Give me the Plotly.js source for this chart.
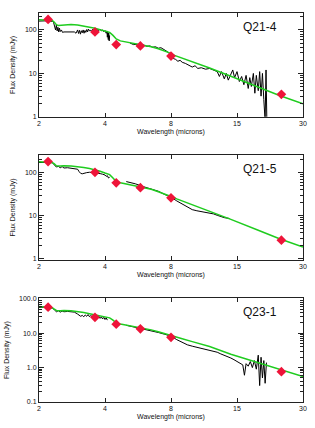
<!DOCTYPE html>
<html>
<head>
<meta charset="utf-8">
<script src="https://cdn.plot.ly/plotly-3.0.1.min.js"></script>
<style>html,body{margin:0;padding:0;background:#fff;}#chart{width:315px;height:428px;}</style>
</head>
<body>
<div id="chart"></div>
<script>
// ---------- data ----------
var panelNames = ['Q21-4', 'Q21-5', 'Q23-1'];
var xTickVals = [2, 4, 8, 16, 32];
var xTickText = ['2', '4', '8', '15', '30'];

// photometry (red diamonds)
var photX = [2.2, 3.6, 4.5, 5.8, 8.0, 25.5];
var photY1 = [175, 90, 46, 43, 25, 3.3];
var photY2 = [181, 102, 58, 44.7, 26, 2.7];
var photY3 = [57, 29, 18.3, 13.4, 7.6, 0.76];

// model (green)
var modX1 = [2.0, 2.2, 2.3, 2.35, 2.4, 2.45, 2.5, 2.6, 2.8, 3.0, 3.2, 3.4, 3.6, 3.8, 4.0, 4.2, 4.35, 4.5, 4.7, 5.0, 5.5, 6.0, 6.5, 7.0, 7.5, 7.8, 8.0, 8.3, 9, 10, 12, 15, 20, 25, 32];
var modY1 = [172, 170, 165, 150, 132, 127, 128, 130, 134, 130, 124, 118, 110, 101, 93, 88, 75, 62, 56, 53, 49, 45, 41, 37, 33, 31, 29, 26, 22.5, 18.5, 13.3, 8.6, 4.9, 3.1, 2.0];
var modX2 = [2.0, 2.2, 2.3, 2.35, 2.4, 2.5, 2.6, 2.8, 3.0, 3.2, 3.4, 3.6, 3.8, 4.0, 4.2, 4.35, 4.5, 4.7, 5.0, 5.5, 6.0, 6.5, 7.0, 7.5, 8.0, 8.5, 9, 10, 12, 15, 20, 25, 32];
var modY2 = [180, 178, 172, 160, 145, 142, 144, 142, 138, 132, 125, 117, 108, 98, 90, 75, 62, 58, 54, 49, 45, 41, 36, 32, 28, 24.5, 22, 18, 12.8, 8.2, 4.6, 2.9, 1.87];
var modX3 = [2.0, 2.2, 2.3, 2.35, 2.4, 2.5, 2.6, 2.8, 3.0, 3.2, 3.4, 3.6, 3.8, 4.0, 4.2, 4.35, 4.5, 4.7, 5.0, 5.5, 6.0, 6.5, 7.0, 7.5, 8.0, 9, 10, 12, 15, 20, 25, 32];
var modY3 = [60, 58, 55, 50, 46, 45, 46, 45, 43, 40, 37, 34, 32, 30, 28, 24, 20, 18.5, 17.3, 15.5, 14, 12.5, 11, 9.8, 8.5, 6.9, 5.7, 4.1, 2.46, 1.38, 0.89, 0.55];

// ground-based spectra (black, short wavelengths)
var gndX1 = [2.0, 2.05, 2.1, 2.15, 2.2, 2.25, 2.3, 2.33, 2.36, 2.38, 2.40, 2.42, 2.44, 2.46, 2.48, 2.50, 2.53, 2.56, 2.6, 2.9, 2.95, 3.0, 3.03, 3.06, 3.09, 3.12, 3.15, 3.18, 3.21, 3.24, 3.27, 3.3, 3.33, 3.36, 3.4, 3.44, 3.48, 3.52, 3.56, 3.6, 3.65, 3.7, 3.75, 3.8, 3.85, 3.9, 3.95, 4.0, 4.05, 4.08, 4.1, 4.12, 4.14, 4.16, 4.18, 4.2];
var gndY1 = [160, 162, 164, 162, 160, 162, 158, 150, 120, 100, 130, 95, 115, 90, 110, 92, 100, 88, 90, 90, 84, 100, 83, 98, 80, 96, 86, 100, 84, 97, 88, 102, 90, 105, 94, 100, 92, 105, 96, 100, 94, 102, 97, 104, 95, 100, 91, 97, 84, 95, 68, 90, 60, 85, 56, 75];
var gndX2 = [2.0, 2.1, 2.2, 2.3, 2.35, 2.4, 2.45, 2.5, 2.55, 2.6, 2.7, 2.8, 2.9, 3.0, 3.05, 3.1, 3.15, 3.2, 3.3, 3.4, 3.5, 3.6, 3.7, 3.8, 3.9, 4.0, 4.05, 4.1, 4.15, 4.2];
var gndY2 = [172, 174, 172, 170, 150, 135, 140, 130, 138, 128, 130, 128, 125, 120, 105, 96, 94, 97, 100, 102, 100, 102, 97, 95, 92, 88, 82, 85, 75, 78];
var gndX3 = [2.0, 2.1, 2.2, 2.3, 2.35, 2.4, 2.45, 2.5, 2.55, 2.6, 2.7, 2.8, 2.9, 3.0, 3.05, 3.1, 3.15, 3.2, 3.25, 3.3, 3.35, 3.4, 3.45, 3.5, 3.55, 3.6, 3.65, 3.7, 3.75, 3.8, 3.85, 3.9, 3.95, 4.0, 4.05, 4.1];
var gndY3 = [56, 57, 55, 54, 48, 42, 45, 41, 44, 42, 43, 42, 41, 36, 33, 31, 33, 30, 34, 31, 35, 30, 33, 29, 32, 30, 33, 28, 31, 27, 30, 26, 29, 25, 28, 24];

// IRS spectra (black, long wavelengths)
var irsX1 = [5.2, 5.4, 5.6, 5.8, 6.0, 6.2, 6.4, 6.6, 6.8, 7.0, 7.2, 7.4, 7.6, 7.8, 8.0, 8.2, 8.4, 8.6, 8.8, 9.0, 9.3, 9.6, 10.0, 10.3, 10.6, 11.0, 11.5, 12.0, 12.5, 13.0, 13.3, 13.6, 14.0, 14.3, 14.6, 15.0, 15.3, 15.6, 16.0, 16.4, 16.8, 17.2, 17.6, 18.0, 18.3, 18.6, 19.0, 19.3, 19.6, 20.0, 20.3, 20.6, 20.9, 21.2, 21.5, 21.7, 21.9];
var irsY1 = [50, 46, 47, 44, 45, 42, 43, 40, 41, 38, 39, 35, 33, 30, 26, 22, 21, 19, 20, 18, 17, 15.5, 14, 15, 13, 13.5, 12.5, 13, 12, 11, 8.5, 11, 7.5, 10, 7, 9.5, 12, 8, 11, 6.5, 8.5, 5.5, 9, 4.5, 8, 5, 10, 3.5, 9, 4, 11, 3, 10, 2.5, 0.8, 12, 0.7];
var irsX2 = [5.0, 5.5, 6.0, 6.5, 7.0, 7.5, 8.0, 8.5, 9.0, 9.5, 10.0, 10.5, 11.0, 11.5, 12.0, 12.5, 13.0, 13.5, 14.0, 14.8];
var irsY2 = [62, 55, 47, 42, 37, 31, 27, 22, 18.5, 15.5, 13.8, 13, 12.5, 12.2, 11.8, 11, 10.2, 9.5, 9, 8.6];
var irsX3 = [5.0, 5.5, 6.0, 6.5, 7.0, 7.5, 8.0, 8.5, 9.0, 9.5, 10.0, 10.5, 11.0, 11.5, 12.0, 12.5, 13.0, 13.5, 14.0, 14.5, 15.0, 15.5, 16.0, 16.5, 17.0, 17.3, 17.6, 18.0, 18.4, 18.8, 19.2, 19.6, 20.0, 20.3, 20.6, 20.9, 21.2, 21.5, 21.8];
var irsY3 = [17, 15, 13, 11.5, 10.5, 9.3, 8.2, 6.5, 5.5, 4.6, 4.2, 3.9, 3.7, 3.5, 3.3, 3.0, 2.8, 2.5, 2.3, 2.1, 1.9, 1.7, 1.5, 1.3, 1.2, 0.6, 1.3, 1.1, 1.5, 1.0, 1.6, 0.9, 2.3, 0.3, 2.0, 0.5, 1.6, 0.35, 1.4];

var yTickVals1 = [1, 10, 100];
var yTickText1 = ['1', '10', '100'];
var yTickVals3 = [0.1, 1, 10, 100];
var yTickText3 = ['0.1', '1.0', '10.0', '100.0'];

// ---------- styling ----------
var GREEN = '#1fcc1f', RED = '#ee1439', AX = '#222';
var FONT = {family: 'Liberation Sans, Arial, sans-serif', size: 7, color: '#111'};

function spec(x, y, xa, ya) {
  return {x: x, y: y, xaxis: xa, yaxis: ya, mode: 'lines', type: 'scatter',
          line: {color: '#000', width: 1}, hoverinfo: 'none', showlegend: false};
}
function model(x, y, xa, ya) {
  return {x: x, y: y, xaxis: xa, yaxis: ya, mode: 'lines', type: 'scatter',
          line: {color: GREEN, width: 1.5}, hoverinfo: 'none', showlegend: false};
}
function phot(y, xa, ya) {
  return {x: photX, y: y, xaxis: xa, yaxis: ya, mode: 'markers', type: 'scatter',
          marker: {symbol: 'diamond', size: 7.5, color: RED}, hoverinfo: 'none', showlegend: false};
}

var traces = [
  spec(gndX1, gndY1, 'x', 'y'), spec(irsX1, irsY1, 'x', 'y'), model(modX1, modY1, 'x', 'y'), phot(photY1, 'x', 'y'),
  spec(gndX2, gndY2, 'x2', 'y2'), spec(irsX2, irsY2, 'x2', 'y2'), model(modX2, modY2, 'x2', 'y2'), phot(photY2, 'x2', 'y2'),
  spec(gndX3, gndY3, 'x3', 'y3'), spec(irsX3, irsY3, 'x3', 'y3'), model(modX3, modY3, 'x3', 'y3'), phot(photY3, 'x3', 'y3')
];

function xaxis(anchor) {
  return {type: 'log', range: [Math.log10(2), Math.log10(32)], anchor: anchor,
          tickvals: xTickVals, ticktext: xTickText, ticks: 'inside', ticklen: 4, tickwidth: 1,
          tickcolor: AX, showline: true, linecolor: AX, linewidth: 1, mirror: 'ticks',
          showgrid: false, zeroline: false, tickfont: FONT,
          title: {text: 'Wavelength (microns)', font: FONT, standoff: 2}};
}
function yaxis(anchor, domain, range, tv, tt) {
  return {type: 'log', range: range, domain: domain, anchor: anchor,
          tickvals: tv, ticktext: tt, ticks: 'inside', ticklen: 5, tickwidth: 1,
          tickcolor: AX, showline: true, linecolor: AX, linewidth: 1, mirror: 'ticks',
          minor: {ticks: 'inside', ticklen: 3, tickcolor: AX, tickwidth: 1, dtick: 'D1', showgrid: false},
          showgrid: false, zeroline: false, tickfont: FONT,
          title: {text: 'Flux Density (mJy)', font: FONT, standoff: 8}};
}

var layout = {
  width: 315, height: 428,
  margin: {l: 39, r: 12, t: 13, b: 26},
  paper_bgcolor: '#fff', plot_bgcolor: '#fff',
  showlegend: false,
  xaxis: xaxis('y'), xaxis2: xaxis('y2'), xaxis3: xaxis('y3'),
  yaxis: yaxis('x', [0.733, 1], [0, 2.39], yTickVals1, yTickText1),
  yaxis2: yaxis('x2', [0.365, 0.635], [-0.03, 2.41], yTickVals1, yTickText1),
  yaxis3: yaxis('x3', [0, 0.267], [-1, 2.02], yTickVals3, yTickText3),
  annotations: panelNames.map(function (n, i) {
    var s = i === 0 ? '' : String(i + 1);
    return {text: n, xref: 'x' + s + ' domain', yref: 'y' + s + ' domain', x: 0.91, y: 0.87,
            xanchor: 'right', yanchor: 'middle', showarrow: false,
            font: {family: 'Liberation Sans, Arial, sans-serif', size: 12, color: '#111'}};
  })
};

Plotly.newPlot('chart', traces, layout, {staticPlot: true, displayModeBar: false});
</script>
</body>
</html>
